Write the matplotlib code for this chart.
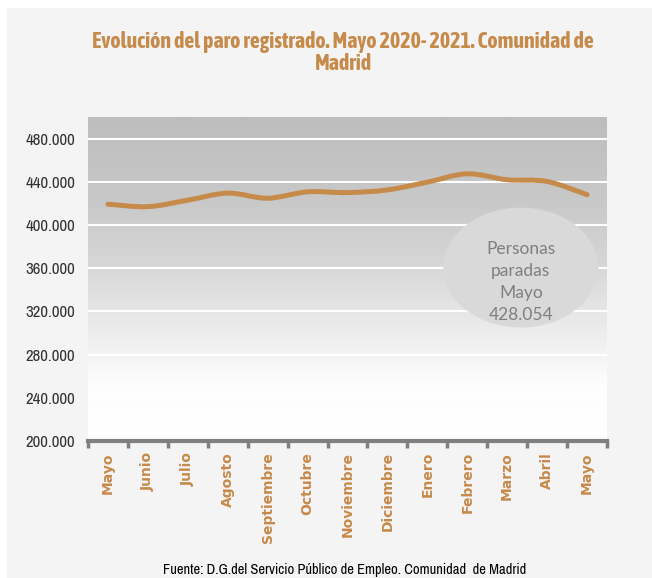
import matplotlib
matplotlib.use('Agg')
import matplotlib.pyplot as plt
import numpy as np
from matplotlib.colors import LinearSegmentedColormap
from matplotlib.patches import Ellipse, Rectangle, PathPatch
from matplotlib.path import Path
from matplotlib.ticker import FuncFormatter

# Data
months = ['Mayo', 'Junio', 'Julio', 'Agosto', 'Septiembre', 'Octubre', 'Noviembre',
          'Diciembre', 'Enero', 'Febrero', 'Marzo', 'Abril', 'Mayo']
parados = [419300, 417000, 423000, 429500, 424800, 430700, 430000,
           432500, 439700, 447400, 441900, 440300, 428054]
y_ticks = [200000, 240000, 280000, 320000, 360000, 400000, 440000, 480000]

title = 'Evolución del paro registrado. Mayo 2020- 2021. Comunidad de\nMadrid'
source = 'Fuente: D.G.del Servicio Público de Empleo. Comunidad  de Madrid'
bubble = 'Personas\nparadas\nMayo\n428.054'

orange = '#c68a4b'
narrow = ['Archivo Narrow', 'Asap Condensed', 'DejaVu Sans']
narrow_bold = ['Asap Condensed', 'Archivo Narrow', 'DejaVu Sans']


def fit_width(txt, target_px, renderer):
    # scale the font size so the text is as wide as in the reference
    w = txt.get_window_extent(renderer).width
    txt.set_fontsize(txt.get_fontsize() * target_px / w)


fig = plt.figure(figsize=(6.52, 5.78), dpi=100)
fig.patch.set_facecolor('white')
fig.add_artist(Rectangle((7 / 652, 0), 1, 1 - 8 / 578, transform=fig.transFigure,
                         facecolor='#f4f4f4', edgecolor='none', zorder=0))

ax = fig.add_axes([88 / 652, 1 - 441 / 578, 519 / 652, 324 / 578])
ax.set_xlim(-0.5, len(months) - 0.5)
ax.set_ylim(200000, 500000)

cmap = LinearSegmentedColormap.from_list('bg', [(0, '#ffffff'), (0.18, '#fdfdfd'),
                                                (0.55, '#d6d6d6'), (0.75, '#c8c8c8'),
                                                (1, '#bdbdbd')])
grad = np.linspace(0, 1, 256).reshape(-1, 1)
ax.imshow(grad, extent=[-0.5, len(months) - 0.5, 200000, 500000], origin='lower',
          aspect='auto', cmap=cmap, zorder=0)

for yv in y_ticks[1:]:
    ax.axhline(yv, color='white', lw=1.5, zorder=1)

# smoothed line, Bezier segments through the monthly values
x = np.arange(len(parados))
y = np.array(parados, dtype=float)
verts = [(x[0], y[0])]
codes = [Path.MOVETO]
t = 1 / 6
for i in range(len(x) - 1):
    p0 = (x[max(i - 1, 0)], y[max(i - 1, 0)])
    p1 = (x[i], y[i])
    p2 = (x[i + 1], y[i + 1])
    p3 = (x[min(i + 2, len(x) - 1)], y[min(i + 2, len(x) - 1)])
    c1 = (p1[0] + (p2[0] - p0[0]) * t, p1[1] + (p2[1] - p0[1]) * t)
    c2 = (p2[0] - (p3[0] - p1[0]) * t, p2[1] - (p3[1] - p1[1]) * t)
    verts += [c1, c2, p2]
    codes += [Path.CURVE4] * 3
ax.add_patch(PathPatch(Path(verts, codes), facecolor='none', edgecolor=orange,
                       lw=3.6, capstyle='round', joinstyle='round', zorder=3))

ax.add_patch(Ellipse((10.34, 360600), 3.88, 111000, facecolor='#d9d9d9',
                     edgecolor='none', zorder=4))
ax.text(10.34, 347000, bubble, ha='center', va='center', fontsize=12.5,
        family='Lato', color='#7f7f7f', linespacing=1.45, zorder=5)

for s in ['left', 'right', 'top']:
    ax.spines[s].set_visible(False)
ax.spines['bottom'].set_color('#808080')
ax.spines['bottom'].set_linewidth(3)
ax.spines['bottom'].set_zorder(6)
ax.set_xticks(np.arange(-0.5, len(months), 1))
ax.set_xticklabels([])
ax.tick_params(axis='x', length=5, width=2.5, color='#808080', direction='out')
ax.set_xticks(np.arange(len(months)), minor=True)
ax.set_xticklabels(months, minor=True, rotation=90, fontsize=10, fontweight='bold',
                   color=orange, va='top')
ax.tick_params(axis='x', which='minor', length=0, pad=8)

ax.set_yticks(y_ticks)
ax.yaxis.set_major_formatter(FuncFormatter(lambda v, p: f'{int(v):,}'.replace(',', '.')))
ax.tick_params(axis='y', length=0, pad=9, labelsize=11, labelcolor='#333333')
for lab in ax.get_yticklabels():
    lab.set_family(narrow)

t1 = fig.text(343 / 652, 1 - 42 / 578, title.split('\n')[0], ha='center', va='center',
              fontsize=15, fontweight='bold', color=orange, family=narrow_bold)
t2 = fig.text(343 / 652, 1 - 64 / 578, title.split('\n')[1], ha='center', va='center',
              fontsize=15, fontweight='bold', color=orange, family=narrow_bold)
src = fig.text(345 / 652, 1 - 570 / 578, source, ha='center', va='center', fontsize=11,
               color='black', family=narrow)

fig.canvas.draw()
r = fig.canvas.get_renderer()
fit_width(t1, 504, r)
t2.set_fontsize(t1.get_fontsize())
fit_width(src, 364, r)
w = ax.get_yticklabels()[-1].get_window_extent(r).width
ax.tick_params(axis='y', labelsize=11 * 50 / w)

fig.savefig('out.png', dpi=100)
